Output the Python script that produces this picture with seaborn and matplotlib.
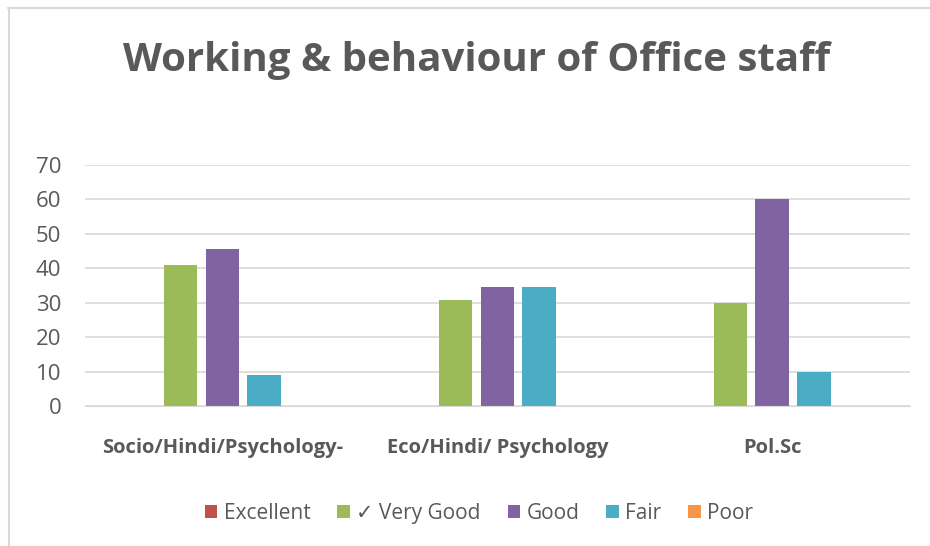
import matplotlib.pyplot as plt
import seaborn as sns
import pandas as pd
from matplotlib.lines import Line2D
from matplotlib.patches import Patch

categories = ["Socio/Hindi/Psychology-", "Eco/Hindi/ Psychology", "Pol.Sc"]
ratings = ["Excellent", "\u2713 Very Good", "Good", "Fair", "Poor"]
excellent = [0, 0, 0]
very_good = [40.9, 30.8, 30]
good = [45.5, 34.6, 60]
fair = [9.1, 34.6, 10]
poor = [0, 0, 0]
colors = ["#c0504d", "#9bbb59", "#8064a2", "#4bacc6", "#f79646"]

rows = []
for name, vals in zip(ratings, [excellent, very_good, good, fair, poor]):
    for cat, v in zip(categories, vals):
        rows.append({"category": cat, "rating": name, "value": v})
df = pd.DataFrame(rows)

sns.set_style("white")
plt.rcParams['font.family'] = ['Open Sans', 'DejaVu Sans']
text_color = "#595959"

fig = plt.figure(figsize=(9.3, 5.46), dpi=100)
ax = fig.add_axes([0.0914, 0.2564, 0.8866, 0.4416])

sns.barplot(data=df, x="category", y="value", hue="rating", hue_order=ratings,
            palette=colors, width=0.76, gap=0.2, ax=ax, legend=False,
            saturation=1, edgecolor="none")

ax.set_ylim(0, 70)
ax.set_xlim(-0.5, 2.5)
ax.set_yticks(range(0, 71, 10))
ax.yaxis.grid(True, color="#d9d9d9", linewidth=1.2)
ax.set_axisbelow(True)
for s in ax.spines.values():
    s.set_visible(False)
ax.spines["bottom"].set_visible(True)
ax.spines["bottom"].set_color("#d9d9d9")
ax.set_xlabel("")
ax.set_ylabel("")
ax.tick_params(axis="y", length=0, labelsize=16, labelcolor=text_color, pad=17)
ax.tick_params(axis="x", length=0, labelsize=14.5, labelcolor=text_color, pad=23)
for lbl in ax.get_xticklabels():
    lbl.set_fontweight("bold")

fig.text(0.512, 0.89, "Working & behaviour of Office staff", ha="center", va="center",
         fontsize=29, fontweight="bold", color=text_color)

handles = [Patch(facecolor=c, edgecolor="none") for c in colors]
fig.legend(handles, ratings, loc="center", bbox_to_anchor=(0.515, 0.06), ncol=5,
           frameon=False, fontsize=15, handlelength=0.6, handleheight=0.6,
           handletextpad=0.3, columnspacing=1.3, labelcolor=text_color)

fig.add_artist(Line2D([8 / 930, 1], [1 - 8 / 546, 1 - 8 / 546], color="#d9d9d9", linewidth=1.5))
fig.add_artist(Line2D([9 / 930, 9 / 930], [0, 1 - 8 / 546], color="#d9d9d9", linewidth=1.5))

fig.savefig("out.png", dpi=100)
